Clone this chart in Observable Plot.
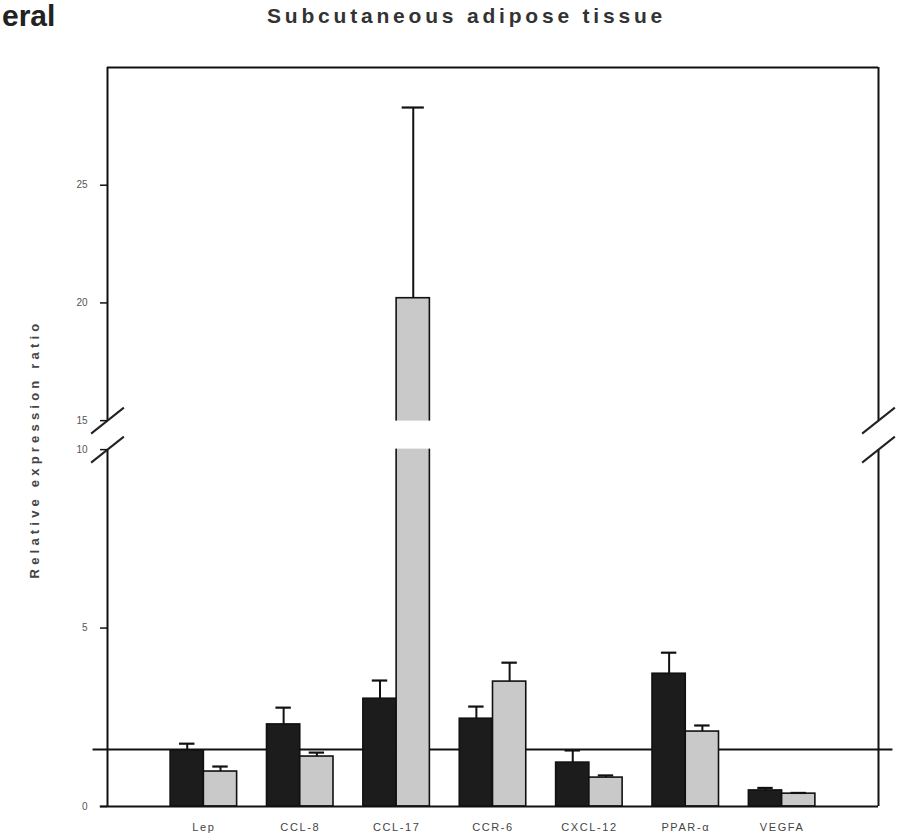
<!DOCTYPE html>
<html>
<head>
<meta charset="utf-8">
<script src="https://cdn.jsdelivr.net/npm/d3@7"></script>
<script src="https://cdn.jsdelivr.net/npm/@observablehq/plot@0.6"></script>
<style>
  html, body { margin: 0; padding: 0; background: #fff; }
  #wrap { position: relative; width: 899px; height: 838px; overflow: hidden; font-family: "Liberation Sans", Arial, sans-serif; }
  #panel { position: absolute; left: 2px; top: 1px; font-size: 30px; line-height: 1; font-weight: bold; color: #222; white-space: nowrap; }
  #title { position: absolute; left: 267px; top: 4px; font-size: 21px; font-weight: bold; color: #333; letter-spacing: 3.8px; white-space: nowrap; }
  #ylab { position: absolute; left: 34px; top: 449px; transform: translate(-50%, -50%) rotate(-90deg); font-size: 13px; font-weight: bold; color: #444; letter-spacing: 4.2px; white-space: nowrap; }
  #chart { position: absolute; left: 0; top: 0; }
</style>
</head>
<body>
<div id="wrap">
  <div id="chart"></div>
  <div id="panel">eral</div>
  <div id="title">Subcutaneous adipose tissue</div>
  <div id="ylab">Relative expression ratio</div>
</div>
<script>
// ---- data ----
const categories = ["Lep", "CCL-8", "CCL-17", "CCR-6", "CXCL-12", "PPAR-α", "VEGFA"];
const group1Means = [1.57, 2.30, 3.02, 2.46, 1.23, 3.72, 0.45];
const group1Upper = [1.76, 2.77, 3.53, 2.80, 1.57, 4.31, 0.52];
const group2Means = [0.98, 1.40, 20.2, 3.50, 0.81, 2.10, 0.36];
const group2Upper = [1.12, 1.51, 28.3, 4.03, 0.87, 2.27, 0.38];
const yTicks = [0, 5, 10, 15, 20, 25];
const referenceLevel = [1.6];

// broken axis: 0–10 below, 15–30 above
const lowerMax = 10, upperMin = 15, upperMax = 30;
const lowerUnit = 35.7, upperUnit = 23.55, gap = 29;
const f = v => v <= lowerMax ? v * lowerUnit
  : lowerMax * lowerUnit + gap + (v - upperMin) * upperUnit;
const breaks = [lowerMax, upperMin];

const barW = 0.345;
const rows = [];
categories.forEach((c, i) => {
  rows.push({cat: c, pos: i + 1, grp: "a", mean: group1Means[i], upper: group1Upper[i]});
  rows.push({cat: c, pos: i + 1, grp: "b", mean: group2Means[i], upper: group2Upper[i]});
});
const x1 = d => d.grp === "a" ? d.pos - barW : d.pos;
const x2 = d => d.grp === "a" ? d.pos : d.pos + barW;
const xc = d => (x1(d) + x2(d)) / 2;
const capW = d => (d.grp === "b" && d.upper > 15) ? 0.115 : 0.08;

const xMax = categories.length + 1;
const sides = [0, xMax];
const slashes = [];
sides.forEach(s => breaks.forEach(b => slashes.push({s, b})));

const plot = Plot.plot({
  width: 899,
  height: 838,
  marginTop: 67,
  marginBottom: 32,
  marginLeft: 107,
  marginRight: 21,
  x: {domain: [0, xMax]},
  y: {domain: [0, f(upperMax)]},
  style: {fontFamily: "Liberation Sans, Arial, sans-serif", background: "white"},
  marks: [
    // reference line
    Plot.ruleY(referenceLevel, {y: d => f(d), x1: -0.15, x2: xMax + 0.15, stroke: "#111", strokeWidth: 2}),
    // bars
    Plot.rect(rows, {
      x1, x2, y1: 0, y2: d => f(d.mean),
      fill: d => d.grp === "a" ? "#1c1c1c" : "#c9c9c9",
      stroke: "#111", strokeWidth: 1.6
    }),
    // error whiskers
    Plot.ruleX(rows, {x: xc, y1: d => f(d.mean), y2: d => f(d.upper), stroke: "#111", strokeWidth: 2}),
    Plot.ruleY(rows, {y: d => f(d.upper), x1: d => xc(d) - capW(d), x2: d => xc(d) + capW(d), stroke: "#111", strokeWidth: 2.2}),
    // gap of the broken axis
    Plot.rect([0], {x1: -0.4, x2: xMax + 0.4, y1: f(lowerMax) + 0.5, y2: f(upperMin) - 0.5, fill: "white"}),
    // frame
    Plot.ruleY([upperMax], {y: d => f(d), x1: 0, x2: xMax, stroke: "#111", strokeWidth: 2}),
    Plot.ruleY([0], {x1: -0.075, x2: xMax, stroke: "#111", strokeWidth: 2}),
    Plot.ruleX(sides, {y1: 0, y2: f(lowerMax), stroke: "#111", strokeWidth: 2}),
    Plot.ruleX(sides, {y1: f(upperMin), y2: f(upperMax), stroke: "#111", strokeWidth: 2}),
    // break slashes
    Plot.link(slashes, {
      x1: d => d.s - 0.17, x2: d => d.s + 0.17,
      y1: d => f(d.b) - 13, y2: d => f(d.b) + 13,
      stroke: "#222", strokeWidth: 2
    }),
    // axes
    Plot.axisY(yTicks.map(f), {
      tickSize: 7, tickPadding: 13, fontSize: 10, fill: "#555",
      tickFormat: d => String(yTicks.find(v => Math.abs(f(v) - d) < 1e-6)),
      label: null, stroke: "#111", strokeWidth: 1.5
    }),
    Plot.axisX(categories.map((c, i) => i + 1), {
      tickSize: 0, tickPadding: 17, fontSize: 11, fill: "#444",
      tickFormat: d => categories[d - 1], label: null
    })
  ]
});
plot.querySelectorAll("[aria-label='x-axis tick label'] text").forEach(t => t.setAttribute("letter-spacing", "1.6"));
document.getElementById("chart").appendChild(plot);
</script>
</body>
</html>
